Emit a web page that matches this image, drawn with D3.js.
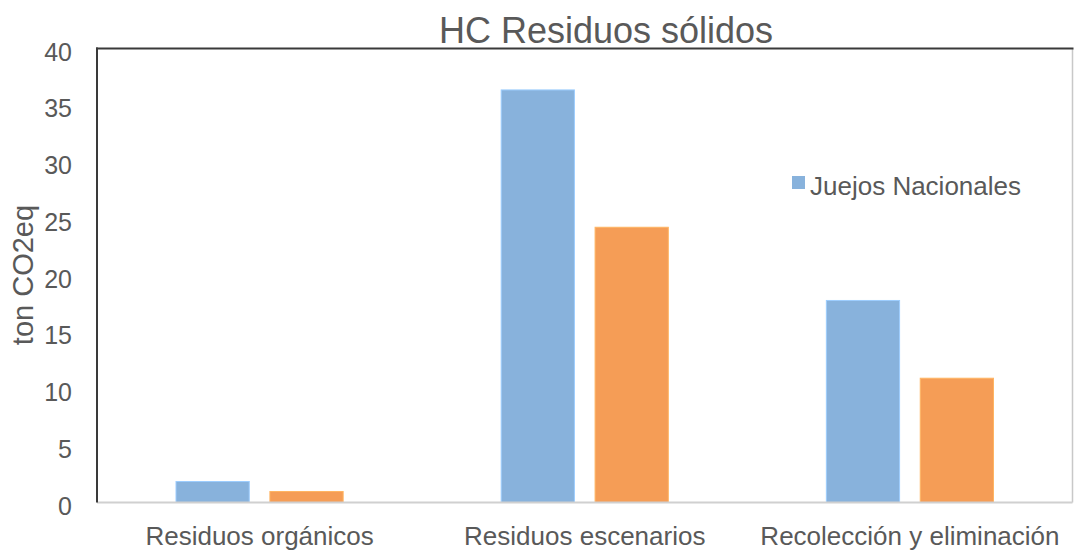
<!DOCTYPE html>
<html>
<head>
<meta charset="utf-8">
<script src="https://cdn.jsdelivr.net/npm/d3@7"></script>
<style>
  body { margin: 0; background: #fff; }
  text { font-family: "Liberation Sans", Arial, sans-serif; fill: #595959; }
</style>
</head>
<body>
<svg id="chart" width="1074" height="552"></svg>
<script>
// data
const categories = ['Residuos orgánicos', 'Residuos escenarios', 'Recolección y eliminación'];
const seriesNames = ['Juejos Nacionales', 'Serie 2'];
const serie1 = [1.85, 36.35, 17.8];
const serie2 = [0.97, 24.25, 10.95];
const yTicks = [0, 5, 10, 15, 20, 25, 30, 35, 40];
const colors = ['#88B2DC', '#F59D56'];

const svg = d3.select('#chart');
const margin = { top: 48.5, left: 97, right: 1.5, bottom: 49.5 };
const width = 1074 - margin.left - margin.right;
const height = 552 - margin.top - margin.bottom;

const g = svg.append('g').attr('transform', `translate(${margin.left},${margin.top})`);

const rows = categories.map((c, i) => ({ cat: c, values: [serie1[i], serie2[i]] }));

const x0 = d3.scaleBand().domain(categories).range([0, width]).paddingInner(0.486).paddingOuter(0.243);
const x1 = d3.scaleBand().domain(d3.range(seriesNames.length)).range([0, x0.bandwidth()]).paddingInner(0.22);
const y = d3.scaleLinear().domain([0, 40]).range([height, 0]);

// frame: light right + bottom, dark left + top
g.append('line').attr('x1', width).attr('x2', width).attr('y1', 0).attr('y2', height)
  .attr('stroke', '#c8c8c8').attr('stroke-width', 1.5);

// bars
g.selectAll('g.grp')
  .data(rows)
  .enter().append('g')
  .attr('class', 'grp')
  .attr('transform', d => `translate(${x0(d.cat)},0)`)
  .selectAll('rect')
  .data(d => d.values.map((v, k) => ({ k: k, v: v })))
  .enter().append('rect')
  .attr('x', d => x1(d.k))
  .attr('width', x1.bandwidth())
  .attr('y', d => y(d.v))
  .attr('height', d => y(0) - y(d.v))
  .attr('fill', d => colors[d.k])
  .attr('stroke', d => d3.color(colors[d.k]).brighter(0.4))
  .attr('stroke-width', 1);

g.append('line').attr('x1', 0).attr('x2', width).attr('y1', height).attr('y2', height)
  .attr('stroke', '#d0d0d0').attr('stroke-width', 2);
g.append('line').attr('x1', -1).attr('x2', width + 1).attr('y1', 0).attr('y2', 0)
  .attr('stroke', '#3a3a3a').attr('stroke-width', 2);
g.append('line').attr('x1', 0).attr('x2', 0).attr('y1', -1).attr('y2', height)
  .attr('stroke', '#3a3a3a').attr('stroke-width', 2);

// y axis
const yAxis = g.append('g').attr('transform', 'translate(-25,0)')
  .call(d3.axisLeft(y).tickValues(yTicks).tickSize(0).tickPadding(0));
yAxis.select('.domain').remove();
yAxis.selectAll('text').style('font-size', '25px').attr('dy', '0.46em');

// x axis labels
const xAxis = g.append('g').attr('transform', `translate(0,${height})`)
  .call(d3.axisBottom(x0).tickSize(0).tickPadding(24));
xAxis.select('.domain').remove();
xAxis.selectAll('text').style('font-size', '26px');

// y label
svg.append('text')
  .attr('transform', 'translate(33,275) rotate(-90)')
  .attr('text-anchor', 'middle')
  .style('font-size', '29px')
  .text('ton CO2eq');

// title
svg.append('text')
  .attr('x', 606).attr('y', 43)
  .attr('text-anchor', 'middle')
  .style('font-size', '36px')
  .text('HC Residuos sólidos');

// legend (first series only, as in the picture)
const leg = svg.append('g').attr('transform', 'translate(792,176)');
leg.append('rect').attr('width', 13).attr('height', 13).attr('fill', colors[0]);
leg.append('text').attr('x', 18).attr('y', 19).style('font-size', '26px').text(seriesNames[0]);
</script>
</body>
</html>
